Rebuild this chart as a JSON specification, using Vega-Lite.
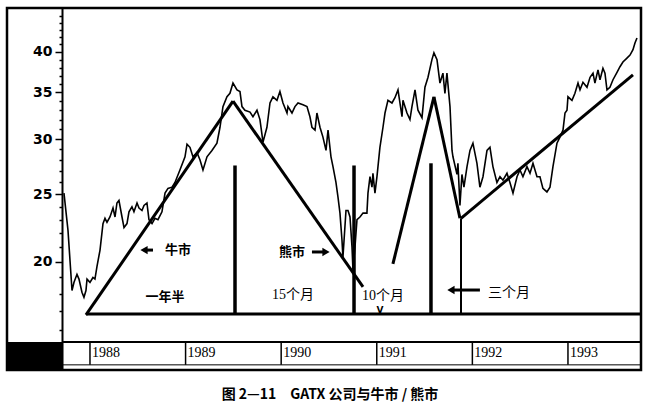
{
  "$schema": "https://vega.github.io/schema/vega-lite/v6.json",
  "autosize": {"type": "none"},
  "width": 634,
  "height": 362,
  "padding": {"left": 7, "top": 8, "right": 7, "bottom": 41},
  "background": "white",
  "config": {"view": {"stroke": "black", "strokeWidth": 2.5}},
  "title": {"text": "图 2—11\u2002\u2002GATX 公司与牛市 / 熊市", "orient": "bottom", "anchor": "middle", "font": "Noto Sans CJK SC", "fontWeight": "bold", "fontSize": 14, "offset": 18, "dx": 6, "color": "black"},
  "datasets": {
    "price": [
      {"t":1987.728,"v":25.1},{"t":1987.770,"v":22.2},{"t":1987.812,"v":18.2},{"t":1987.833,"v":18.7},{"t":1987.864,"v":19.2},{"t":1987.885,"v":18.9},{"t":1987.916,"v":18.1},{"t":1987.937,"v":17.8},{"t":1987.958,"v":18.2},{"t":1987.969,"v":18.9},{"t":1988.000,"v":18.7},{"t":1988.031,"v":19.0},{"t":1988.052,"v":18.9},{"t":1988.073,"v":19.7},{"t":1988.105,"v":20.8},{"t":1988.136,"v":22.7},{"t":1988.157,"v":23.1},{"t":1988.178,"v":22.8},{"t":1988.209,"v":23.2},{"t":1988.241,"v":23.9},{"t":1988.262,"v":23.2},{"t":1988.282,"v":24.3},{"t":1988.303,"v":24.5},{"t":1988.335,"v":23.2},{"t":1988.356,"v":22.4},{"t":1988.387,"v":22.7},{"t":1988.408,"v":23.6},{"t":1988.439,"v":24.0},{"t":1988.460,"v":23.6},{"t":1988.492,"v":24.3},{"t":1988.513,"v":23.9},{"t":1988.544,"v":23.7},{"t":1988.565,"v":24.1},{"t":1988.596,"v":24.3},{"t":1988.617,"v":23.0},{"t":1988.649,"v":22.7},{"t":1988.680,"v":23.1},{"t":1988.711,"v":23.0},{"t":1988.753,"v":23.6},{"t":1988.785,"v":25.1},{"t":1988.816,"v":25.5},{"t":1988.858,"v":25.6},{"t":1988.889,"v":26.0},{"t":1988.941,"v":27.1},{"t":1988.994,"v":28.3},{"t":1989.015,"v":29.5},{"t":1989.046,"v":29.2},{"t":1989.077,"v":28.3},{"t":1989.119,"v":28.7},{"t":1989.151,"v":28.0},{"t":1989.182,"v":27.1},{"t":1989.224,"v":28.3},{"t":1989.276,"v":28.9},{"t":1989.328,"v":29.6},{"t":1989.360,"v":31.2},{"t":1989.391,"v":33.4},{"t":1989.433,"v":34.5},{"t":1989.464,"v":34.9},{"t":1989.496,"v":36.1},{"t":1989.538,"v":35.3},{"t":1989.569,"v":35.1},{"t":1989.590,"v":33.4},{"t":1989.621,"v":33.0},{"t":1989.674,"v":32.8},{"t":1989.705,"v":32.3},{"t":1989.747,"v":33.0},{"t":1989.778,"v":32.0},{"t":1989.810,"v":29.7},{"t":1989.851,"v":31.2},{"t":1989.883,"v":33.8},{"t":1989.914,"v":34.5},{"t":1989.956,"v":34.1},{"t":1989.987,"v":35.1},{"t":1990.019,"v":33.8},{"t":1990.061,"v":32.7},{"t":1990.071,"v":33.4},{"t":1990.113,"v":32.7},{"t":1990.144,"v":33.4},{"t":1990.176,"v":33.8},{"t":1990.228,"v":33.6},{"t":1990.270,"v":33.4},{"t":1990.301,"v":32.3},{"t":1990.322,"v":31.2},{"t":1990.354,"v":30.9},{"t":1990.374,"v":32.7},{"t":1990.406,"v":31.2},{"t":1990.437,"v":30.2},{"t":1990.469,"v":28.9},{"t":1990.490,"v":30.9},{"t":1990.521,"v":28.3},{"t":1990.542,"v":27.4},{"t":1990.573,"v":26.0},{"t":1990.594,"v":24.8},{"t":1990.615,"v":23.5},{"t":1990.636,"v":21.5},{"t":1990.646,"v":20.3},{"t":1990.678,"v":23.7},{"t":1990.699,"v":23.7},{"t":1990.720,"v":23.2},{"t":1990.741,"v":21.0},{"t":1990.751,"v":19.5},{"t":1990.772,"v":21.0},{"t":1990.793,"v":23.0},{"t":1990.824,"v":23.2},{"t":1990.856,"v":23.5},{"t":1990.897,"v":23.5},{"t":1990.908,"v":25.1},{"t":1990.929,"v":26.5},{"t":1990.950,"v":25.6},{"t":1990.960,"v":26.8},{"t":1990.981,"v":25.1},{"t":1991.002,"v":26.5},{"t":1991.033,"v":29.2},{"t":1991.065,"v":31.2},{"t":1991.086,"v":32.7},{"t":1991.117,"v":34.1},{"t":1991.159,"v":33.8},{"t":1991.190,"v":34.4},{"t":1991.222,"v":35.3},{"t":1991.264,"v":32.3},{"t":1991.274,"v":34.1},{"t":1991.316,"v":32.7},{"t":1991.347,"v":32.0},{"t":1991.368,"v":33.4},{"t":1991.400,"v":35.3},{"t":1991.431,"v":33.0},{"t":1991.473,"v":32.2},{"t":1991.504,"v":35.6},{"t":1991.536,"v":36.8},{"t":1991.577,"v":39.0},{"t":1991.598,"v":39.9},{"t":1991.630,"v":39.0},{"t":1991.661,"v":36.1},{"t":1991.692,"v":37.3},{"t":1991.713,"v":34.9},{"t":1991.734,"v":37.3},{"t":1991.766,"v":33.4},{"t":1991.787,"v":28.9},{"t":1991.797,"v":28.3},{"t":1991.839,"v":26.7},{"t":1991.849,"v":27.7},{"t":1991.870,"v":24.1},{"t":1991.891,"v":26.7},{"t":1991.912,"v":25.6},{"t":1991.944,"v":27.4},{"t":1991.975,"v":28.9},{"t":1992.006,"v":29.6},{"t":1992.048,"v":27.7},{"t":1992.079,"v":25.6},{"t":1992.111,"v":26.5},{"t":1992.153,"v":28.9},{"t":1992.184,"v":29.2},{"t":1992.215,"v":27.4},{"t":1992.257,"v":26.0},{"t":1992.289,"v":26.5},{"t":1992.320,"v":26.2},{"t":1992.362,"v":26.8},{"t":1992.393,"v":26.0},{"t":1992.425,"v":25.1},{"t":1992.467,"v":26.5},{"t":1992.498,"v":27.1},{"t":1992.529,"v":26.5},{"t":1992.571,"v":27.4},{"t":1992.603,"v":26.8},{"t":1992.634,"v":27.7},{"t":1992.676,"v":26.5},{"t":1992.707,"v":26.5},{"t":1992.738,"v":25.5},{"t":1992.780,"v":25.2},{"t":1992.812,"v":25.6},{"t":1992.843,"v":27.4},{"t":1992.885,"v":29.6},{"t":1992.916,"v":30.2},{"t":1992.948,"v":30.9},{"t":1992.969,"v":32.7},{"t":1992.990,"v":33.0},{"t":1993.000,"v":34.5},{"t":1993.042,"v":34.1},{"t":1993.073,"v":34.9},{"t":1993.105,"v":36.1},{"t":1993.126,"v":35.3},{"t":1993.157,"v":36.2},{"t":1993.199,"v":35.6},{"t":1993.231,"v":36.8},{"t":1993.262,"v":37.3},{"t":1993.282,"v":36.1},{"t":1993.314,"v":37.7},{"t":1993.335,"v":36.5},{"t":1993.366,"v":37.9},{"t":1993.387,"v":37.3},{"t":1993.408,"v":35.3},{"t":1993.439,"v":35.6},{"t":1993.471,"v":36.5},{"t":1993.513,"v":37.4},{"t":1993.544,"v":38.1},{"t":1993.575,"v":38.7},{"t":1993.617,"v":39.2},{"t":1993.649,"v":39.6},{"t":1993.680,"v":40.3},{"t":1993.701,"v":41.2},{"t":1993.722,"v":41.9}
    ],
    "thick": [
      {"t":1987.958,"v":16.79,"t2":1989.496,"v2":34.0},
      {"t":1989.496,"v":34.0,"t2":1990.856,"v2":18.42},
      {"t":1991.169,"v":19.87,"t2":1991.598,"v2":34.5},
      {"t":1991.598,"v":34.5,"t2":1991.870,"v2":23.1},
      {"t":1991.881,"v":23.1,"t2":1993.680,"v2":37.1},
      {"t":1987.958,"v":16.84,"t2":1993.764,"v2":16.84}
    ],
    "bars": [
      {"t":1989.517,"v":27.5,"t2":1989.517,"v2":16.84},
      {"t":1990.762,"v":27.5,"t2":1990.762,"v2":16.84},
      {"t":1991.567,"v":27.7,"t2":1991.567,"v2":16.84}
    ],
    "thin": [
      {"t":1991.881,"v":23.1,"t2":1991.881,"v2":16.84}
    ],
    "shafts": [
      {"t":1988.575,"v":20.8,"t2":1988.659,"v2":20.8},
      {"t":1990.322,"v":20.67,"t2":1990.458,"v2":20.67},
      {"t":1991.787,"v":18.23,"t2":1992.079,"v2":18.23}
    ],
    "headsL": [
      {"t":1988.565,"v":20.8},
      {"t":1991.776,"v":18.23}
    ],
    "headsR": [
      {"t":1990.469,"v":20.67}
    ],
    "boldLabels": [
      {"t":1988.921,"v":20.8,"label":"牛市"},
      {"t":1990.113,"v":20.67,"label":"熊市"},
      {"t":1988.785,"v":17.82,"label":"一年半"}
    ],
    "serifLabels": [
      {"t":1990.123,"v":17.94,"label":"15个月"},
      {"t":1991.065,"v":17.9,"label":"10个月"},
      {"t":1992.383,"v":18.06,"label":"三个月"}
    ],
    "vmark": [
      {"t":1991.033,"v":17.05,"label":"V"}
    ],
    "blackBox": [
      {"t":1987.132,"t2":1987.718,"v":14.0,"v2":15.36}
    ],
    "rowLines": [
      {"t":1987.718,"t2":1993.764,"v":15.36,"v2":15.36}
    ],
    "rowBottom": [
      {"t":1987.718,"t2":1993.764,"v":14.24,"v2":14.24}
    ],
    "yearSeps": [
      {"t":1988,"v":14.24,"t2":1988,"v2":15.36},
      {"t":1989,"v":14.24,"t2":1989,"v2":15.36},
      {"t":1990,"v":14.24,"t2":1990,"v2":15.36},
      {"t":1991,"v":14.24,"t2":1991,"v2":15.36},
      {"t":1992,"v":14.24,"t2":1992,"v2":15.36},
      {"t":1993,"v":14.24,"t2":1993,"v2":15.36}
    ],
    "years": [
      {"t":1988,"v":14.79,"label":"1988"},
      {"t":1989,"v":14.79,"label":"1989"},
      {"t":1990,"v":14.79,"label":"1990"},
      {"t":1991,"v":14.79,"label":"1991"},
      {"t":1992,"v":14.79,"label":"1992"},
      {"t":1993,"v":14.79,"label":"1993"}
    ]
  },
  "encoding": {
    "x": {"field": "t", "type": "quantitative", "scale": {"domain": [1987.132, 1993.764], "zero": false, "nice": false}, "axis": null},
    "y": {"field": "v", "type": "quantitative", "scale": {"type": "log", "domain": [14.0, 46.25], "nice": false, "zero": false},
      "axis": {
        "title": null, "offset": -55, "grid": false,
        "values": [16,17,18,19,20,21,22,23,24,25,26,27,28,29,30,31,32,33,34,35,36,37,38,39,40,41,42,43,44,45],
        "labelExpr": "(datum.value % 5 === 0 && datum.value <= 40) ? datum.value : ''",
        "labelOverlap": false, "labelFlush": false,
        "tickSize": {"condition": {"test": "datum.value % 5 === 0 && datum.value <= 40", "value": 7}, "value": 3},
        "tickWidth": 1.5, "tickColor": "black",
        "domainColor": "black", "domainWidth": 2,
        "labelFont": "DejaVu Sans", "labelFontWeight": "bold", "labelFontSize": 14, "labelColor": "black", "labelPadding": 3
      }
    }
  },
  "layer": [
    {"data": {"name": "blackBox"}, "mark": {"type": "rect", "color": "black"}, "encoding": {"x2": {"field": "t2"}, "y2": {"field": "v2"}}},
    {"data": {"name": "rowLines"}, "mark": {"type": "rule", "color": "black", "strokeWidth": 2}, "encoding": {"x2": {"field": "t2"}, "y2": {"field": "v2"}}},
    {"data": {"name": "rowBottom"}, "mark": {"type": "rule", "color": "black", "strokeWidth": 1}, "encoding": {"x2": {"field": "t2"}, "y2": {"field": "v2"}}},
    {"data": {"name": "yearSeps"}, "mark": {"type": "rule", "color": "black", "strokeWidth": 1.5}, "encoding": {"x2": {"field": "t2"}, "y2": {"field": "v2"}}},
    {"data": {"name": "years"}, "mark": {"type": "text", "align": "left", "baseline": "middle", "dx": 2, "font": "Liberation Serif", "fontSize": 14, "color": "black"}, "encoding": {"text": {"field": "label"}}},
    {"data": {"name": "price"}, "mark": {"type": "line", "color": "black", "strokeWidth": 1.6}},
    {"data": {"name": "thick"}, "mark": {"type": "rule", "color": "black", "strokeWidth": 3}, "encoding": {"x2": {"field": "t2"}, "y2": {"field": "v2"}}},
    {"data": {"name": "bars"}, "mark": {"type": "rule", "color": "black", "strokeWidth": 3.5}, "encoding": {"x2": {"field": "t2"}, "y2": {"field": "v2"}}},
    {"data": {"name": "thin"}, "mark": {"type": "rule", "color": "black", "strokeWidth": 2}, "encoding": {"x2": {"field": "t2"}, "y2": {"field": "v2"}}},
    {"data": {"name": "shafts"}, "mark": {"type": "rule", "color": "black", "strokeWidth": 3}, "encoding": {"x2": {"field": "t2"}, "y2": {"field": "v2"}}},
    {"data": {"name": "headsL"}, "mark": {"type": "point", "shape": "triangle-left", "filled": true, "color": "black", "size": 70, "opacity": 1}},
    {"data": {"name": "headsR"}, "mark": {"type": "point", "shape": "triangle-right", "filled": true, "color": "black", "size": 70, "opacity": 1}},
    {"data": {"name": "boldLabels"}, "mark": {"type": "text", "align": "center", "baseline": "middle", "font": "Noto Sans CJK SC", "fontWeight": "bold", "fontSize": 13, "color": "black"}, "encoding": {"text": {"field": "label"}}},
    {"data": {"name": "serifLabels"}, "mark": {"type": "text", "align": "center", "baseline": "middle", "font": "Liberation Serif, Noto Sans CJK SC", "fontSize": 14, "color": "black"}, "encoding": {"text": {"field": "label"}}},
    {"data": {"name": "vmark"}, "mark": {"type": "text", "align": "center", "baseline": "middle", "font": "DejaVu Sans", "fontWeight": "bold", "fontSize": 9, "color": "black"}, "encoding": {"text": {"field": "label"}}}
  ]
}
